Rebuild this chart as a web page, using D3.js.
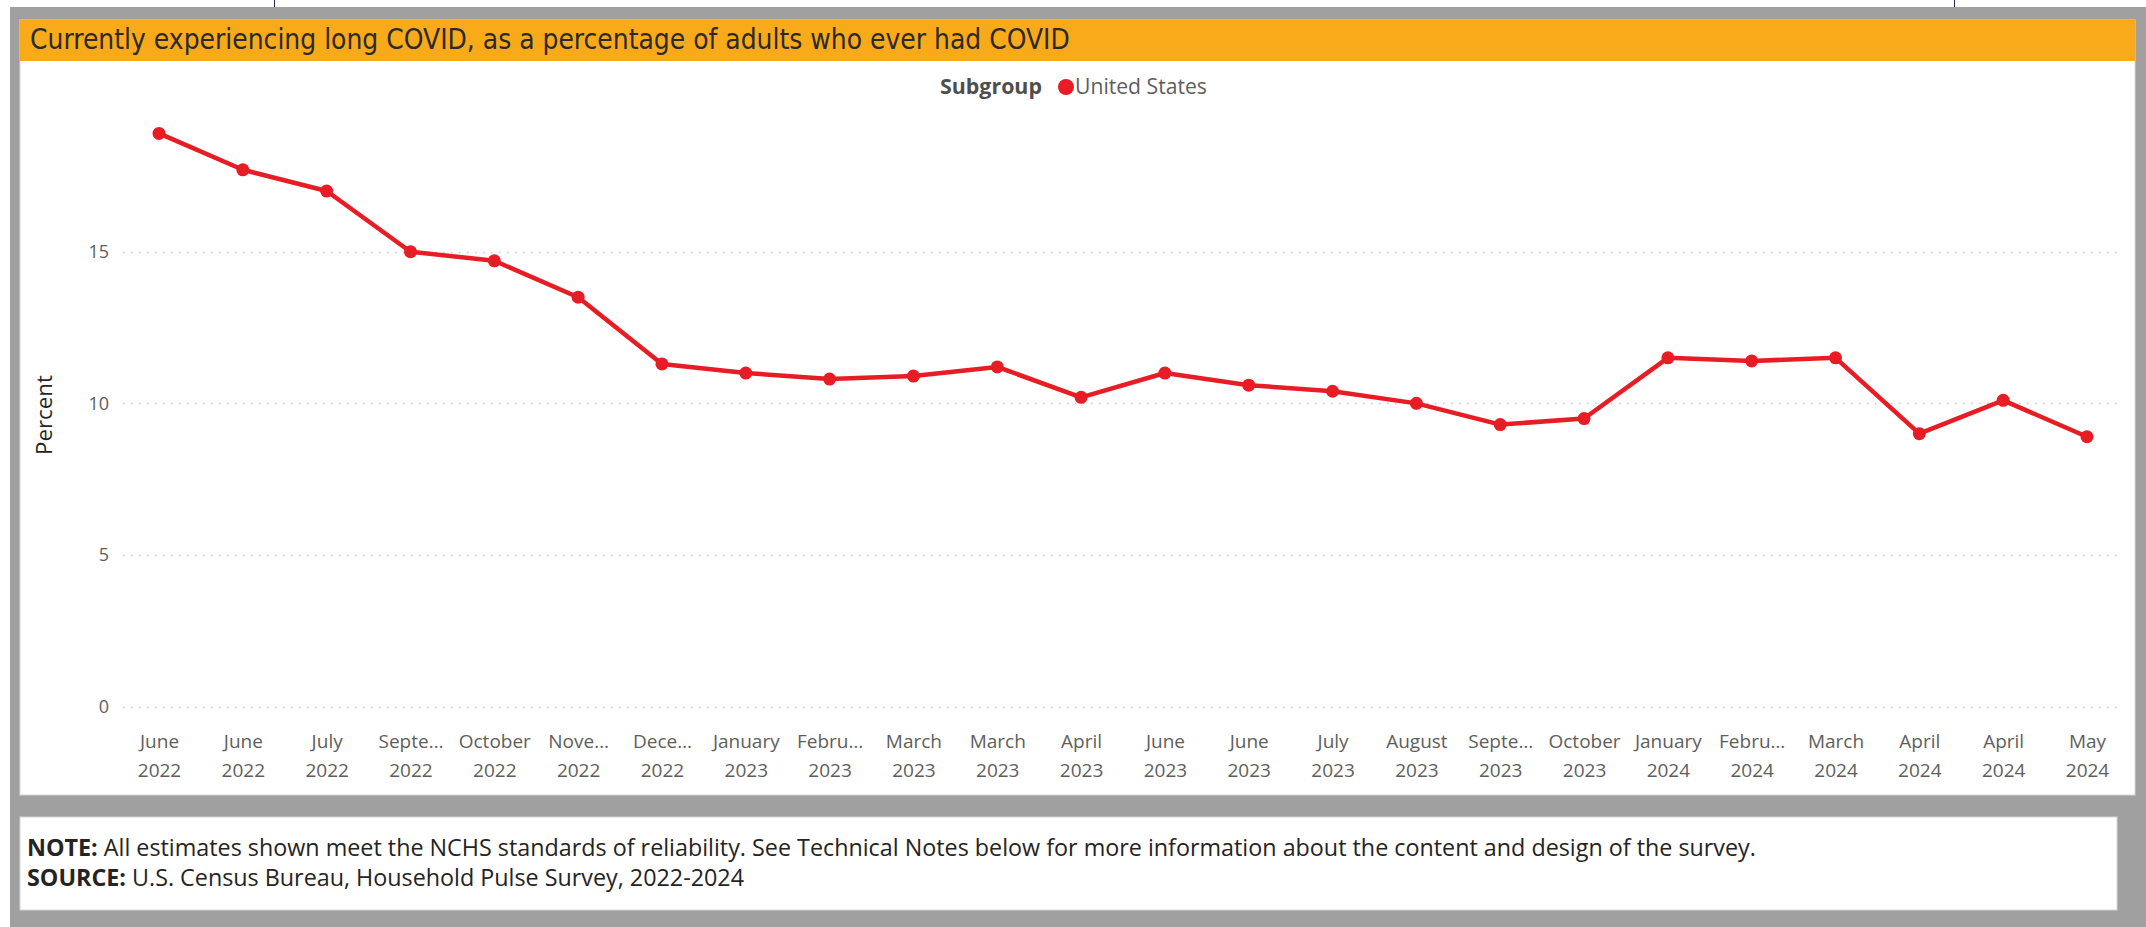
<!DOCTYPE html>
<html>
<head>
<meta charset="utf-8">
<script src="https://cdn.jsdelivr.net/npm/d3@7"></script>
<style>
  body { margin: 0; background: #ffffff; }
  svg { display: block; }
</style>
</head>
<body>
<svg id="chart"></svg>
<script>
// axis labels, as shown under the points
var months = ["June", "June", "July", "Septe\u2026", "October", "Nove\u2026", "Dece\u2026", "January",
    "Febru\u2026", "March", "March", "April", "June", "June", "July", "August", "Septe\u2026",
    "October", "January", "Febru\u2026", "March", "April", "April", "May"];
var years = ["2022", "2022", "2022", "2022", "2022", "2022", "2022", "2023", "2023", "2023",
    "2023", "2023", "2023", "2023", "2023", "2023", "2023", "2023", "2024", "2024", "2024",
    "2024", "2024", "2024"];

// percent currently experiencing long COVID, United States
var values = [18.9, 17.7, 17.0, 15.0, 14.7, 13.5, 11.3, 11.0, 10.8, 10.9, 11.2, 10.2,
    11.0, 10.6, 10.4, 10.0, 9.3, 9.5, 11.5, 11.4, 11.5, 9.0, 10.1, 8.9];

var yTicks = [0, 5, 10, 15];

var titleText = "Currently experiencing long COVID, as a percentage of adults who ever had COVID";
var seriesName = "United States";
var noteText = " All estimates shown meet the NCHS standards of reliability. See Technical Notes below for more information about the content and design of the survey.";
var sourceText = " U.S. Census Bureau, Household Pulse Survey, 2022-2024";

var width = 2146;
var height = 927;
var red = "#e81c24";
var font = "'Open Sans', 'Noto Sans', sans-serif";

var svg = d3.select("#chart")
    .attr("width", width)
    .attr("height", height);

// frame and panels
svg.append("rect").attr("x", 10).attr("y", 7).attr("width", width - 10).attr("height", height - 7)
    .attr("fill", "#a0a0a0");
svg.append("line").attr("x1", 274.5).attr("x2", 274.5).attr("y1", 0).attr("y2", 7)
    .attr("stroke", "#1f2d4d");
svg.append("line").attr("x1", 1954.5).attr("x2", 1954.5).attr("y1", 0).attr("y2", 7)
    .attr("stroke", "#1f2d4d");

svg.append("rect").attr("x", 20).attr("y", 20).attr("width", 2115).attr("height", 775)
    .attr("fill", "#ffffff").attr("stroke", "#d6d6d6");
svg.append("rect").attr("x", 20).attr("y", 20).attr("width", 2115).attr("height", 41)
    .attr("fill", "#f9aa1b");
svg.append("rect").attr("x", 20).attr("y", 817).attr("width", 2097).attr("height", 93)
    .attr("fill", "#ffffff").attr("stroke", "#d6d6d6");

// shrink or grow a text element so it spans the given width
function fitWidth(sel, target) {
    var w = sel.node().getComputedTextLength();
    var fs = parseFloat(sel.attr("font-size"));
    sel.attr("font-size", fs * target / w);
}

var title = svg.append("text")
    .attr("x", 30).attr("y", 49)
    .attr("font-family", "'DejaVu Sans Condensed', 'Liberation Sans Narrow', sans-serif")
    .attr("font-size", 22)
    .attr("fill", "#2b2a28")
    .text(titleText);
fitWidth(title, 1040);

// scales
var x = d3.scalePoint()
    .domain(d3.range(values.length))
    .range([159, 2087]);

var y = d3.scaleLinear()
    .domain([0, 15])
    .range([706.7, 251.7]);

// gridlines
svg.append("g")
    .selectAll("line")
    .data(yTicks)
    .enter().append("line")
    .attr("x1", 123).attr("x2", 2118)
    .attr("y1", function (d) { return Math.round(y(d)) + 0.5; })
    .attr("y2", function (d) { return Math.round(y(d)) + 0.5; })
    .attr("stroke", "#c8c8c8")
    .attr("stroke-width", 1.3)
    .attr("stroke-dasharray", "1.5,6.5");

// y axis
var yAxis = svg.append("g")
    .attr("transform", "translate(109,0)")
    .call(d3.axisLeft(y).tickValues(yTicks).tickSize(0).tickPadding(0));
yAxis.select(".domain").remove();
yAxis.selectAll("text")
    .attr("font-family", font)
    .attr("font-size", 18)
    .attr("fill", "#605e5c");

var yTitle = svg.append("text")
    .attr("transform", "translate(52,415) rotate(-90)")
    .attr("text-anchor", "middle")
    .attr("font-family", font)
    .attr("font-size", 18)
    .attr("fill", "#252423")
    .text("Percent");
fitWidth(yTitle, 80);

// x axis, two lines per label
var xAxis = svg.append("g")
    .attr("transform", "translate(0,731)")
    .call(d3.axisBottom(x).tickSize(0).tickFormat(function (i) { return months[i]; }));
xAxis.select(".domain").remove();
xAxis.selectAll("text")
    .attr("font-family", font)
    .attr("font-size", 19)
    .attr("fill", "#605e5c")
    .attr("dy", "0.71em")
    .each(function (i) {
        d3.select(this).append("tspan")
            .attr("x", 0)
            .attr("dy", "1.53em")
            .text(years[i]);
    });

// line and markers
var line = d3.line()
    .x(function (d, i) { return x(i); })
    .y(function (d) { return y(d); });

svg.append("path")
    .datum(values)
    .attr("d", line)
    .attr("fill", "none")
    .attr("stroke", red)
    .attr("stroke-width", 4.5)
    .attr("stroke-linejoin", "round");

svg.append("g")
    .selectAll("circle")
    .data(values)
    .enter().append("circle")
    .attr("cx", function (d, i) { return x(i); })
    .attr("cy", function (d) { return y(d); })
    .attr("r", 6.5)
    .attr("fill", red);

// legend
var legend = svg.append("g");
var legendTitle = legend.append("text")
    .attr("x", 940).attr("y", 94)
    .attr("font-family", font)
    .attr("font-size", 18)
    .attr("font-weight", "bold")
    .attr("fill", "#4f4e4c")
    .text("Subgroup");
fitWidth(legendTitle, 102);
legend.append("circle")
    .attr("cx", 1066).attr("cy", 87).attr("r", 8)
    .attr("fill", red);
var legendItem = legend.append("text")
    .attr("x", 1075).attr("y", 94)
    .attr("font-family", font)
    .attr("font-size", 18)
    .attr("fill", "#605e5c")
    .text(seriesName);
fitWidth(legendItem, 132);

// note and source
var note = svg.append("text")
    .attr("x", 27).attr("y", 856)
    .attr("font-family", font)
    .attr("font-size", 18)
    .attr("fill", "#252423");
note.append("tspan").attr("font-weight", "bold").text("NOTE:");
note.append("tspan").text(noteText);
fitWidth(note, 1730);

var source = svg.append("text")
    .attr("x", 27).attr("y", 886)
    .attr("font-family", font)
    .attr("font-size", note.attr("font-size"))
    .attr("fill", "#252423");
source.append("tspan").attr("font-weight", "bold").text("SOURCE:");
source.append("tspan").text(sourceText);
</script>
</body>
</html>
